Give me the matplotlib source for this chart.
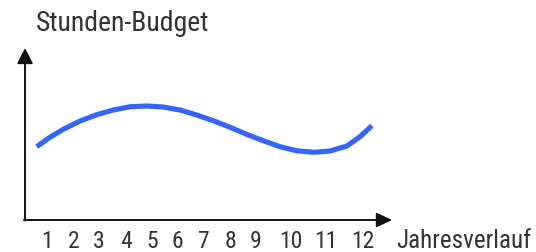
import matplotlib
matplotlib.use("Agg")
import matplotlib.pyplot as plt

# ---- data ----
months = [0.61, 1.11, 1.62, 2.26, 2.89, 3.52, 4.16, 4.79, 5.42, 6.06, 6.69,
          7.32, 7.96, 8.59, 9.22, 9.86, 10.49, 11.13, 11.76, 12.40, 12.90, 13.35]
budget = [73.3, 82.7, 90.7, 99.0, 105.3, 110.0, 113.3, 114.0, 113.0, 110.0, 105.0,
          99.3, 92.7, 85.7, 79.3, 73.3, 69.3, 67.7, 69.0, 74.0, 83.3, 94.3]
tick_labels = ["1", "2", "3", "4", "5", "6", "7", "8", "9", "10", "11", "12"]
tick_positions = [1, 2, 2.98, 4.0, 5.0, 5.95, 6.97, 7.96, 8.95, 10.25, 11.6, 13.0]
y_title = "Stunden-Budget"
x_title = "Jahresverlauf"

plt.rcParams["font.family"] = ["Roboto Condensed", "Roboto", "DejaVu Sans"]

fig = plt.figure(figsize=(5.36, 2.52), dpi=100)
ax = fig.add_axes([0, 0, 1, 1])
ax.set_xlim(-0.787, 19.59)
ax.set_ylim(-32, 220)
ax.axis("off")

x0 = 0.164
ax.annotate("", xy=(14.12, 0), xytext=(x0 - 0.04, 0),
            arrowprops=dict(arrowstyle="-|>,head_length=0.47,head_width=0.22",
                            mutation_scale=20, color="#111111", lw=1.4,
                            shrinkA=0, shrinkB=0))
ax.annotate("", xy=(x0, 172), xytext=(x0, -0.5),
            arrowprops=dict(arrowstyle="-|>,head_length=0.47,head_width=0.24",
                            mutation_scale=20, color="#111111", lw=1.4,
                            shrinkA=0, shrinkB=0))

ax.plot(months, budget, color="#3366ff", lw=3.7, solid_capstyle="butt",
        solid_joinstyle="round")

for p, t in zip(tick_positions, tick_labels):
    ax.text(p, -28, t, ha="center", va="baseline", fontsize=17, color="#333333")

ax.text(0.595, 220 - 31, y_title, ha="left", va="baseline", fontsize=20,
        color="#333333")
ax.text(14.28, 220 - 248, x_title, ha="left", va="baseline", fontsize=18,
        color="#333333")

fig.savefig("out.png", dpi=100)
